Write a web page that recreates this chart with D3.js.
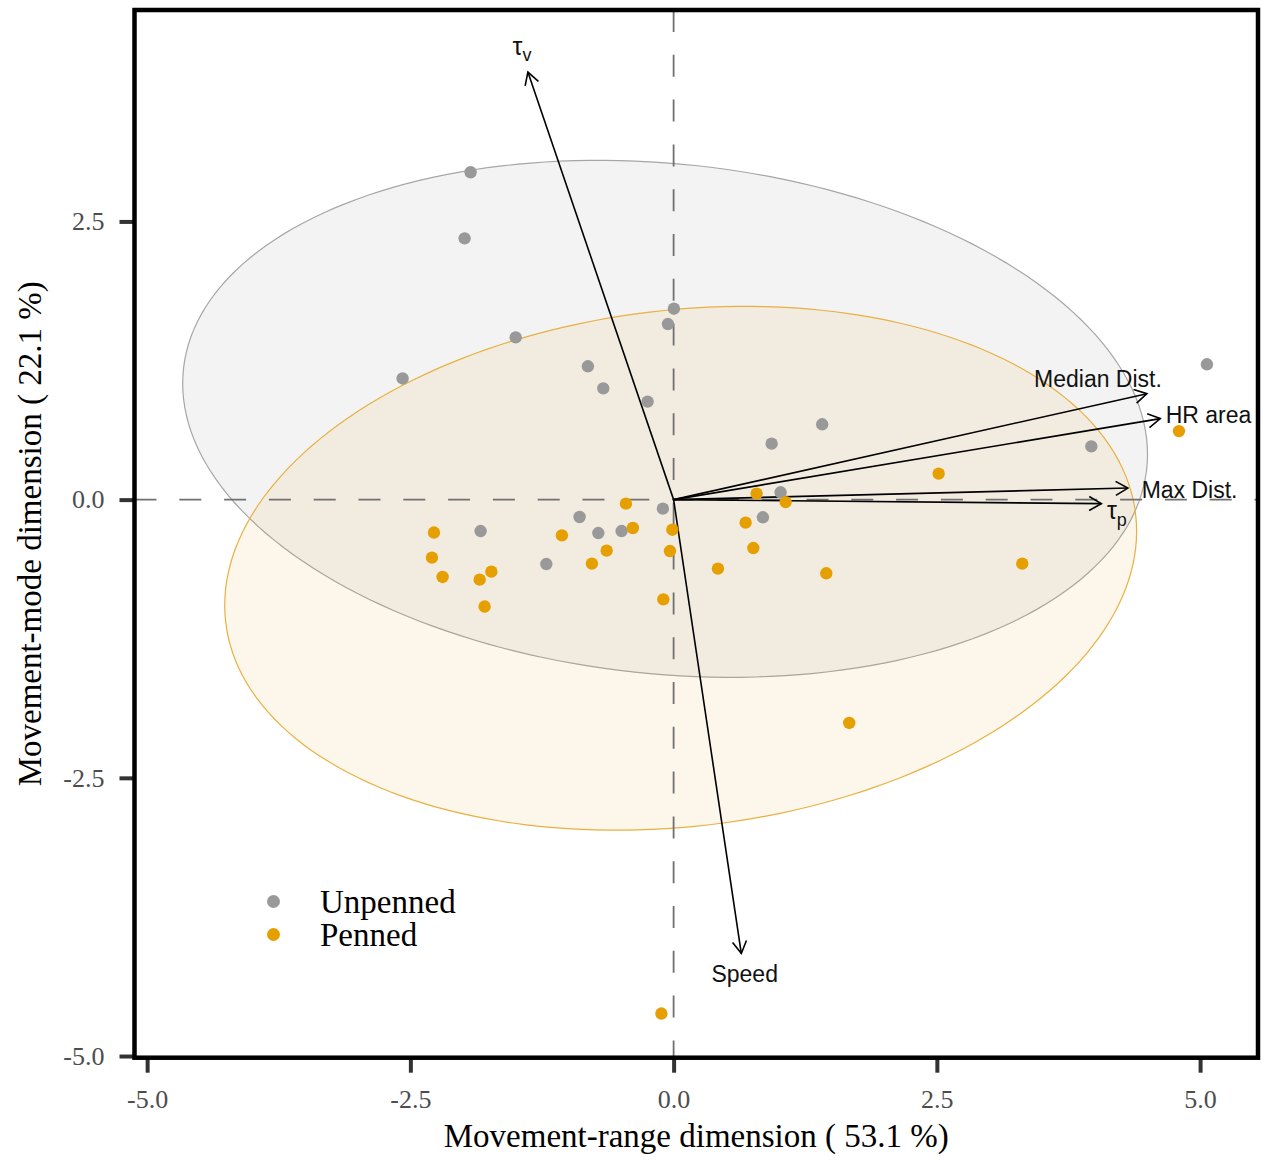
<!DOCTYPE html>
<html>
<head>
<meta charset="utf-8">
<script src="https://cdn.jsdelivr.net/npm/d3@7"></script>
<style>
  body { margin: 0; background: #fff; }
  svg { display: block; }
</style>
</head>
<body>
<svg id="chart" width="1266" height="1161"></svg>
<script>
// ---- Data -------------------------------------------------------------
const groups = ["Unpenned", "Penned"];
const groupColors = ["#999999", "#E69F00"];

// Individual scores on the first two dimensions
const unpennedX = [-1.928, -1.985, -1.500, -2.574, -0.814, -0.668, -0.247, 0.003, -0.054, 5.065,
                   1.411, 0.931, 3.967, 1.016, 0.848, -0.102, -0.893, -0.715, -0.494, -1.833, -1.209];
const unpennedY = [2.942, 2.348, 1.458, 1.089, 1.198, 1.000, 0.881, 1.716, 1.578, 1.216,
                   0.677, 0.503, 0.479, 0.066, -0.159, -0.081, -0.156, -0.300, -0.282, -0.282, -0.579];

const pennedX = [-2.276, -2.295, -2.194, -1.842, -1.731, -1.795, -1.061, -0.776, -0.636, -0.453,
                 -0.387, -0.012, -0.035, -0.098, -0.116, 0.421, 0.684, 0.757, 0.788, 1.064,
                 1.450, 1.668, 2.517, 3.311, 4.799];
const pennedY = [-0.296, -0.521, -0.695, -0.719, -0.647, -0.961, -0.321, -0.575, -0.458, -0.036,
                 -0.255, -0.270, -0.462, -0.896, -4.618, -0.620, -0.207, -0.435, 0.054, -0.022,
                 -0.662, -2.007, 0.234, -0.575, 0.616];

// Group concentration ellipses: centre and covariance (xx, yy, xy)
const ellipseCenterX = [-0.081, 0.067];
const ellipseCenterY = [0.726, -0.617];
const ellipseVarX = [20.99, 18.75];
const ellipseVarY = [5.396, 5.541];
const ellipseCovXY = [-1.46, 1.44];

// Variable loadings (arrows) and label anchors
const varBase = ["τ", "Median Dist.", "HR area", "Max Dist.", "τ", "Speed"];
const varSub  = ["v", "", "", "", "p", ""];
const varX = [-1.384, 4.495, 4.622, 4.314, 4.062, 0.643];
const varY = [3.842, 0.952, 0.728, 0.104, -0.036, -4.079];
const labelX = [-1.44, 4.03, 5.08, 4.90, 4.21, 0.675];
const labelY = [4.05, 1.09, 0.76, 0.09, -0.12, -4.26];

const xTicks = [-5, -2.5, 0, 2.5, 5];
const yTicks = [-5, -2.5, 0, 2.5];
const xTitle = "Movement-range dimension ( 53.1 %)";
const yTitle = "Movement-mode dimension  ( 22.1 %)";

// ---- Layout -----------------------------------------------------------
const panel = { left: 134.5, right: 1258, top: 10, bottom: 1057.7 };
const x = d3.scaleLinear().domain([-5.12, 5.55]).range([panel.left, panel.right]);
const y = d3.scaleLinear().domain([-5.015, 4.40]).range([panel.bottom, panel.top]);

const svg = d3.select("#chart");
const serif = "'Liberation Serif', 'Times New Roman', serif";
const sans = "'Liberation Sans', Arial, sans-serif";

svg.append("defs").append("clipPath").attr("id", "panel-clip")
  .append("rect")
  .attr("x", panel.left).attr("y", panel.top)
  .attr("width", panel.right - panel.left).attr("height", panel.bottom - panel.top);

const plot = svg.append("g").attr("clip-path", "url(#panel-clip)");

// ---- Ellipses -----------------------------------------------------------
const ellipseLine = d3.line().x(d => x(d[0])).y(d => y(d[1])).curve(d3.curveLinearClosed);
groups.forEach((g, i) => {
  const l11 = Math.sqrt(ellipseVarX[i]);
  const l21 = ellipseCovXY[i] / l11;
  const l22 = Math.sqrt(ellipseVarY[i] - l21 * l21);
  const pts = d3.range(0, 200).map(k => {
    const t = (k / 200) * 2 * Math.PI;
    return [ellipseCenterX[i] + l11 * Math.cos(t),
            ellipseCenterY[i] + l21 * Math.cos(t) + l22 * Math.sin(t)];
  });
  plot.append("path")
    .attr("d", ellipseLine(pts))
    .attr("fill", groupColors[i])
    .attr("fill-opacity", i === 0 ? 0.12 : 0.08)
    .attr("stroke", i === 0 ? "#a6a6a6" : "#e8b040")
    .attr("stroke-width", 1.2);
});

// ---- Reference lines at zero ---------------------------------------------
plot.append("line")
  .attr("x1", panel.left).attr("x2", panel.right)
  .attr("y1", y(0)).attr("y2", y(0))
  .attr("stroke", "#707070").attr("stroke-width", 1.8)
  .attr("stroke-dasharray", "22,22.8");
plot.append("line")
  .attr("x1", x(0)).attr("x2", x(0))
  .attr("y1", panel.top).attr("y2", panel.bottom)
  .attr("stroke", "#707070").attr("stroke-width", 1.8)
  .attr("stroke-dasharray", "22,22.8");

// ---- Variable arrows -----------------------------------------------------
const arrows = plot.append("g");
varX.forEach((vx, i) => {
  const x0 = x(0), y0 = y(0), x1 = x(vx), y1 = y(varY[i]);
  const ang = Math.atan2(y1 - y0, x1 - x0);
  const head = 14, spread = Math.PI / 6;
  arrows.append("line")
    .attr("x1", x0).attr("y1", y0).attr("x2", x1).attr("y2", y1)
    .attr("stroke", "#000").attr("stroke-width", 1.6);
  arrows.append("path")
    .attr("d", d3.line()([
      [x1 - head * Math.cos(ang - spread), y1 - head * Math.sin(ang - spread)],
      [x1, y1],
      [x1 - head * Math.cos(ang + spread), y1 - head * Math.sin(ang + spread)]
    ]))
    .attr("fill", "none").attr("stroke", "#000").attr("stroke-width", 1.6);
});

// ---- Individuals ---------------------------------------------------------
const pointSets = [
  unpennedX.map((v, i) => [v, unpennedY[i]]),
  pennedX.map((v, i) => [v, pennedY[i]])
];
pointSets.forEach((set, gi) => {
  plot.append("g").selectAll("circle").data(set).join("circle")
    .attr("cx", d => x(d[0])).attr("cy", d => y(d[1]))
    .attr("r", 6.2)
    .attr("fill", groupColors[gi]);
});

// ---- Variable labels -----------------------------------------------------
varBase.forEach((b, i) => {
  const t = svg.append("text")
    .attr("x", x(labelX[i])).attr("y", y(labelY[i]))
    .attr("dy", varSub[i] ? "0.25em" : "0.36em")
    .attr("text-anchor", "middle")
    .attr("font-family", sans)
    .attr("font-size", varSub[i] ? 25 : 23)
    .attr("fill", "#111");
  t.append("tspan").text(b);
  if (varSub[i]) {
    t.append("tspan").attr("font-size", 18).attr("dy", "0.35em").text(varSub[i]);
  }
});

// ---- Axes ----------------------------------------------------------------
const fmt = d => d.toFixed(1);
const xAxis = svg.append("g")
  .attr("transform", `translate(0,${panel.bottom})`)
  .call(d3.axisBottom(x).tickValues(xTicks).tickFormat(fmt).tickSize(15).tickPadding(17));
const yAxis = svg.append("g")
  .attr("transform", `translate(${panel.left},0)`)
  .call(d3.axisLeft(y).tickValues(yTicks).tickFormat(fmt).tickSize(15).tickPadding(15));
[xAxis, yAxis].forEach(a => {
  a.select(".domain").remove();
  a.selectAll(".tick line").attr("stroke", "#333").attr("stroke-width", 4);
  a.selectAll(".tick text")
    .attr("font-family", serif).attr("font-size", 26).attr("fill", "#4d4d4d");
});

// Panel border
svg.append("rect")
  .attr("x", panel.left).attr("y", panel.top)
  .attr("width", panel.right - panel.left).attr("height", panel.bottom - panel.top)
  .attr("fill", "none").attr("stroke", "#000").attr("stroke-width", 4.5);

// Axis titles
svg.append("text")
  .attr("x", (panel.left + panel.right) / 2).attr("y", 1147)
  .attr("text-anchor", "middle")
  .attr("font-family", serif).attr("font-size", 33).attr("fill", "#000")
  .text(xTitle);
svg.append("text")
  .attr("transform", `translate(41,${(panel.top + panel.bottom) / 2}) rotate(-90)`)
  .attr("text-anchor", "middle")
  .attr("font-family", serif).attr("font-size", 33).attr("fill", "#000")
  .text(yTitle);

// ---- Legend --------------------------------------------------------------
const legend = svg.append("g");
groups.forEach((g, i) => {
  const cy = 901.5 + i * 33;
  legend.append("circle").attr("cx", 273.5).attr("cy", cy).attr("r", 6.5).attr("fill", groupColors[i]);
  legend.append("text")
    .attr("x", 320).attr("y", cy + 11.5)
    .attr("font-family", serif).attr("font-size", 33).attr("fill", "#000")
    .text(g);
});
</script>
</body>
</html>
